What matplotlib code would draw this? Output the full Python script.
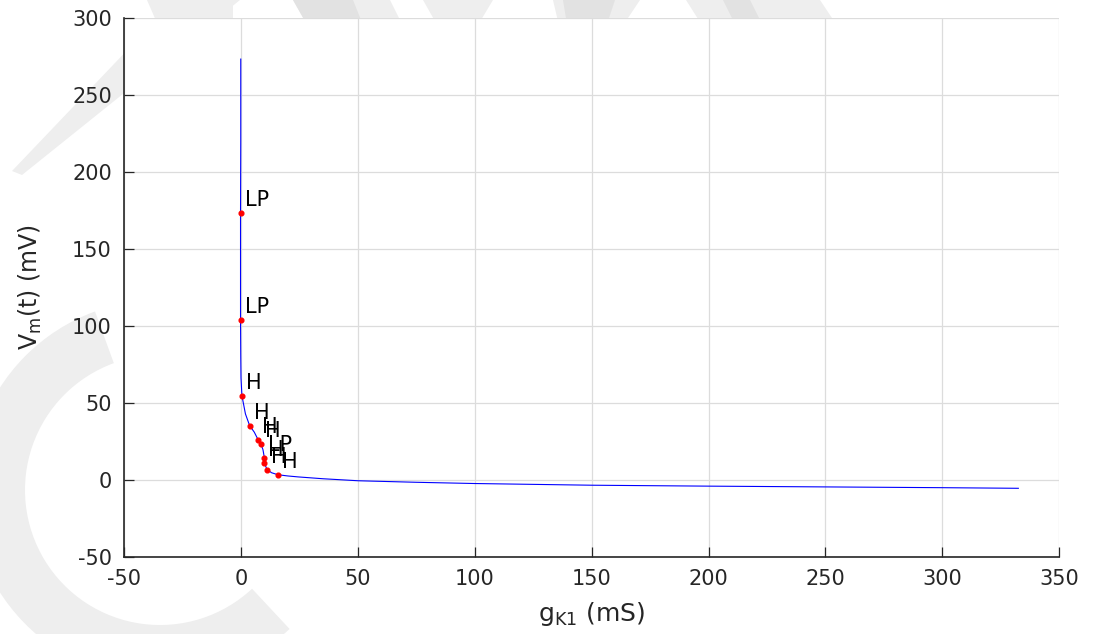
import matplotlib
matplotlib.use("Agg")
import matplotlib.pyplot as plt
from matplotlib.patches import Polygon, Wedge

plt.rcParams["axes.unicode_minus"] = False

# continuation curve: g_K1 (mS) vs V_m (mV)
gk1 = [-0.2, -0.2, -0.3, -0.3, -0.2, -0.1, 0.3, 1.8, 3.6, 5.6, 7.2, 8.4, 9.3,
       9.9, 9.9, 11.1, 13.0, 15.7, 20.0, 24.3, 35.0, 50.0, 75.0, 100.0, 150.0,
       200.0, 250.0, 300.0, 332.6]
vm = [273.0, 220.0, 173.0, 103.5, 80.0, 66.0, 54.5, 42.7, 35.1, 30.8, 26.0,
      23.2, 19.5, 14.3, 10.6, 6.5, 4.5, 3.2, 2.4, 1.8, 0.6, -0.7, -1.7, -2.5,
      -3.6, -4.2, -4.7, -5.2, -5.6]

# detected special points (limit points, Hopf points)
sp_gk1 = [-0.3, -0.3, 0.3, 3.6, 7.2, 8.4, 9.9, 9.9, 11.1, 15.7]
sp_vm = [173.0, 103.5, 54.5, 35.1, 26.0, 23.2, 14.3, 10.6, 6.5, 3.2]
sp_lab = ["LP", "LP", "H", "H", "H", "H", "LP", "H", "H", "H"]

xticks = [-50, 0, 50, 100, 150, 200, 250, 300, 350]
yticks = [-50, 0, 50, 100, 150, 200, 250, 300]

W, H = 1093, 634
fig = plt.figure(figsize=(W / 100, H / 100), dpi=100)

# faint logo behind the plot, in pixel coordinates
bg = fig.add_axes([0, 0, 1, 1])
bg.set_xlim(0, W)
bg.set_ylim(H, 0)
bg.axis("off")
light, mid = "#eeeeee", "#e2e2e2"
bg.add_patch(Wedge((160, 490), 190, 47, 250, width=55, color=light, lw=0))
bg.add_patch(Polygon([(12, 171), (175, 0), (240, 0), (22, 175)], color=light, lw=0))
bg.add_patch(Polygon([(147, 0), (233, 0), (233, 30), (160, 30)], color=light, lw=0))
bg.add_patch(Polygon([(293, 0), (390, 0), (405, 30), (310, 30)], color=light, lw=0))
bg.add_patch(Polygon([(293, 0), (353, 0), (365, 30), (310, 30)], color=mid, lw=0))
bg.add_patch(Polygon([(423, 0), (493, 0), (475, 30), (440, 30)], color=light, lw=0))
bg.add_patch(Polygon([(553, 0), (640, 0), (620, 30), (560, 30)], color=light, lw=0))
bg.add_patch(Polygon([(563, 0), (615, 0), (605, 30), (568, 30)], color=mid, lw=0))
bg.add_patch(Polygon([(686, 0), (820, 0), (840, 30), (705, 30)], color=light, lw=0))
bg.add_patch(Polygon([(723, 0), (750, 0), (765, 30), (738, 30)], color=mid, lw=0))

ax = fig.add_axes([124.4 / W, 1 - 556.7 / H, (1059 - 124.4) / W, (556.7 - 17.5) / H])
ax.set_facecolor("white")

ax.plot(gk1, vm, color="blue", lw=0.8, zorder=3)
ax.plot(sp_gk1, sp_vm, "o", color="red", ms=3.4, mec="red", zorder=4)
for x, y, s in zip(sp_gk1, sp_vm, sp_lab):
    ax.annotate(s, (x, y), xytext=(4, 13), textcoords="offset pixels",
                va="center", ha="left", fontsize=15, color="black", zorder=5)

ax.set_xlim(-50, 350)
ax.set_ylim(-50, 300)
ax.set_xticks(xticks)
ax.set_yticks(yticks)
ax.grid(True, color="#dcdcdc", lw=0.9)
ax.set_axisbelow(True)

for side in ["top", "right"]:
    ax.spines[side].set_visible(False)
for side in ["left", "bottom"]:
    ax.spines[side].set_color("#262626")
    ax.spines[side].set_linewidth(1.2)
ax.tick_params(direction="in", length=7.5, width=0.9, colors="#262626",
               labelsize=15, pad=9)

ax.set_xlabel("g$_{\\mathregular{K1}}$ (mS)", fontsize=18, color="#262626", labelpad=8)
ax.set_ylabel("V$_{\\mathregular{m}}$(t) (mV)", fontsize=17, color="#262626", labelpad=20)

fig.savefig("out.png", dpi=100)
